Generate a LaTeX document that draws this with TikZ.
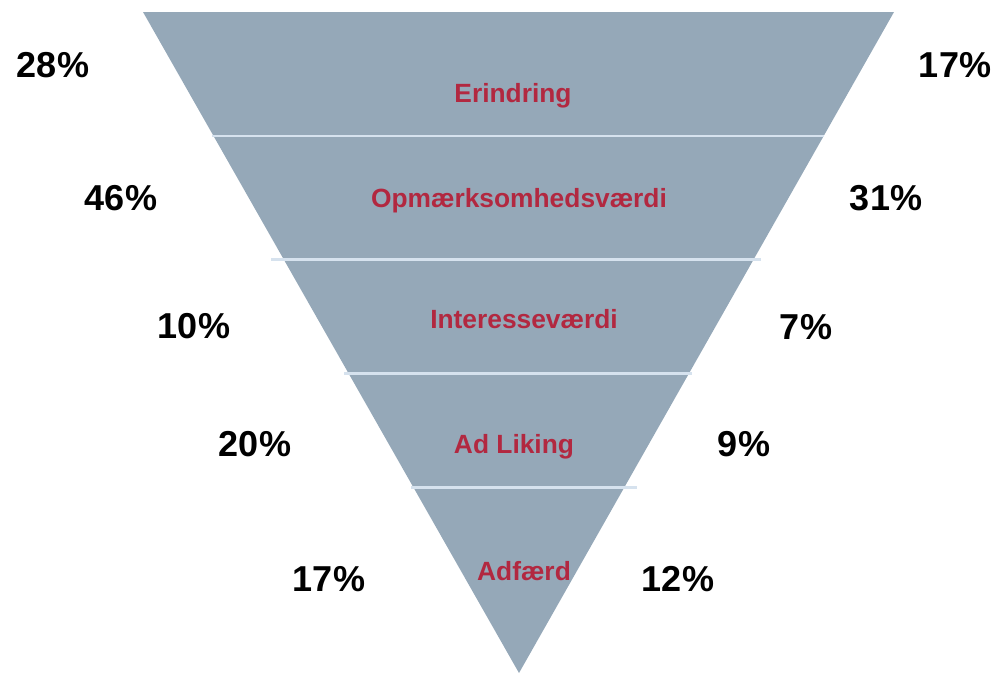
\documentclass[tikz,border=0pt]{standalone}
\usepackage{fontspec}
\setmainfont{Liberation Sans}
\definecolor{funnel}{RGB}{149,168,184}
\definecolor{divider}{RGB}{214,226,238}
\definecolor{stagered}{RGB}{178,40,64}

\begin{document}
\begin{tikzpicture}[x=0.02cm, y=-0.02cm,
  pct/.style={anchor=base, font=\fontsize{20.5}{24}\selectfont\bfseries},
  stagelabel/.style={anchor=base, text=stagered, font=\fontsize{15}{18}\selectfont\bfseries}]
  \useasboundingbox (0, 0) rectangle (999, 673);
  \fill[funnel] (143, 12) -- (894, 12) -- (519, 673) -- cycle;
  \draw[divider, line width=1.7pt] (212, 136) -- (824, 136);
  \draw[divider, line width=1.7pt] (271, 259.5) -- (761, 259.5);
  \draw[divider, line width=1.7pt] (344, 373.5) -- (692, 373.5);
  \draw[divider, line width=1.7pt] (411, 487) -- (637, 487);
  \node[stagelabel] (erindring) at (513, 102) {Erindring};
  \node[stagelabel] (opm) at (519, 207) {Opmærksomhedsværdi};
  \node[stagelabel] (interesse) at (524, 328) {Interesseværdi};
  \node[stagelabel] (liking) at (514, 453) {Ad Liking};
  \node[stagelabel] (adfaerd) at (524, 580) {Adfærd};
  \node[pct] (left1) at (53, 77) {28\%};
  \node[pct] (left2) at (121, 210) {46\%};
  \node[pct] (left3) at (194, 338) {10\%};
  \node[pct] (left4) at (255, 456) {20\%};
  \node[pct] (left5) at (329, 591) {17\%};
  \node[pct] (right1) at (955, 77) {17\%};
  \node[pct] (right2) at (886, 210) {31\%};
  \node[pct] (right3) at (806, 339) {7\%};
  \node[pct] (right4) at (744, 456) {9\%};
  \node[pct] (right5) at (678, 591) {12\%};
\end{tikzpicture}
\end{document}
